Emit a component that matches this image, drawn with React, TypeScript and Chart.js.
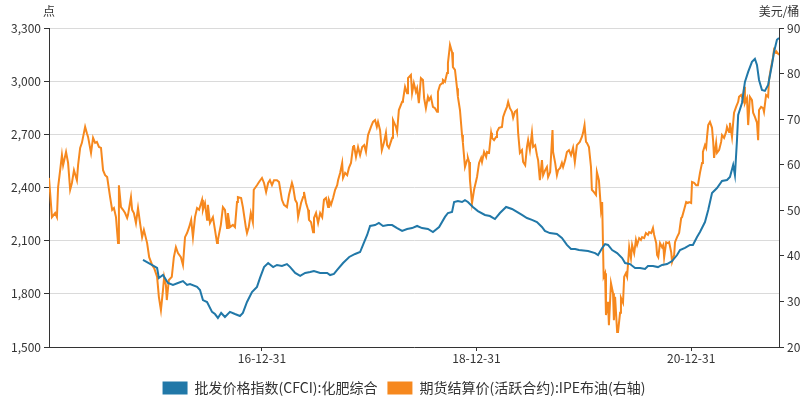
import { useEffect, useRef } from "react";
import { Chart, registerables } from "chart.js";

Chart.register(...registerables);

const cfciName = "批发价格指数(CFCI):化肥综合";
const brentName = "期货结算价(活跃合约):IPE布油(右轴)";
const leftUnit = "点";
const rightUnit = "美元/桶";
const xRange = ["2015-01-06", "2021-10-26"];
const xTickDates = ["2016-12-31", "2018-12-31", "2020-12-31"];
const leftAxis = { min: 1500, max: 3300, step: 300 };
const rightAxis = { min: 20, max: 90, step: 10 };
const cfciColor = "#2178a8";
const brentColor = "#f6881e";

const cfciDates = [
  "2015-11-22",
  "2016-01-09", "2016-01-15", "2016-01-29", "2016-02-15", "2016-03-03", "2016-03-20", "2016-04-06", "2016-04-20", "2016-04-30", "2016-05-24", "2016-06-03", "2016-06-13", "2016-06-27", "2016-07-14", "2016-07-24", "2016-08-03", "2016-08-14", "2016-08-27", "2016-09-13", "2016-09-30", "2016-10-17", "2016-10-27", "2016-11-10", "2016-11-27", "2016-12-14", "2016-12-24",
  "2017-01-07", "2017-01-21", "2017-02-07", "2017-02-20", "2017-03-09", "2017-03-26", "2017-04-06", "2017-04-23", "2017-05-10", "2017-05-27", "2017-06-13", "2017-06-26", "2017-07-17", "2017-08-10", "2017-08-20", "2017-09-02", "2017-09-13", "2017-10-03", "2017-10-24", "2017-11-13", "2017-11-30", "2017-12-10", "2017-12-24",
  "2018-01-03", "2018-01-20", "2018-02-02", "2018-02-16", "2018-03-05", "2018-03-19", "2018-04-05", "2018-04-22", "2018-05-09", "2018-05-26", "2018-06-12", "2018-06-29", "2018-07-19", "2018-08-05", "2018-08-26", "2018-09-15", "2018-09-25", "2018-10-09", "2018-10-16", "2018-10-29", "2018-11-12", "2018-11-22", "2018-12-02", "2018-12-19",
  "2019-01-05", "2019-01-29", "2019-02-15", "2019-03-04", "2019-03-21", "2019-04-11", "2019-05-01", "2019-05-18", "2019-06-04", "2019-06-21", "2019-07-08", "2019-07-25", "2019-08-11", "2019-08-21", "2019-09-07", "2019-10-01", "2019-10-18", "2019-11-04", "2019-11-18", "2019-12-02", "2019-12-15",
  "2020-01-15", "2020-02-08", "2020-02-18", "2020-03-03", "2020-03-13", "2020-03-23", "2020-04-06", "2020-04-23", "2020-05-10", "2020-05-20", "2020-06-06", "2020-06-23", "2020-07-10", "2020-07-27", "2020-08-06", "2020-08-23", "2020-09-09", "2020-09-23", "2020-10-10", "2020-10-27", "2020-11-13", "2020-11-23", "2020-12-10", "2020-12-27",
  "2021-01-06", "2021-01-20", "2021-01-30", "2021-02-16", "2021-02-27", "2021-03-12", "2021-03-29", "2021-04-15", "2021-05-02", "2021-05-12", "2021-05-23", "2021-05-29", "2021-06-05", "2021-06-09", "2021-06-22", "2021-07-02", "2021-07-13", "2021-07-26", "2021-08-05", "2021-08-12", "2021-08-19", "2021-08-29", "2021-09-08", "2021-09-19", "2021-10-02", "2021-10-09", "2021-10-19", "2021-10-26",
];
const cfciValues = [
  1991,
  1946, 1889, 1906, 1861, 1850, 1861, 1872, 1850, 1855, 1839, 1822, 1765, 1754, 1698, 1686, 1664, 1692, 1669, 1698, 1686, 1675, 1692, 1754, 1810, 1839, 1889,
  1951, 1974, 1951, 1963, 1957, 1968, 1951, 1918, 1901, 1918, 1923, 1929, 1918, 1918, 1906, 1912, 1935, 1974, 2008, 2025, 2036, 2076, 2132,
  2183, 2188, 2200, 2183, 2188, 2188, 2171, 2155, 2166, 2171, 2183, 2171, 2166, 2149, 2177, 2234, 2256, 2262, 2318, 2324, 2318, 2329, 2318, 2290,
  2267, 2245, 2239, 2222, 2256, 2290, 2279, 2262, 2245, 2228, 2217, 2205, 2177, 2155, 2143, 2138, 2115, 2076, 2053, 2053, 2047,
  2042, 2030, 2019, 2059, 2081, 2076, 2047, 2030, 2002, 1974, 1968, 1946, 1946, 1940, 1957, 1957, 1951, 1963, 1968, 1985, 2019, 2047, 2059, 2076,
  2076, 2121, 2149, 2205, 2273, 2369, 2397, 2437, 2442, 2459, 2527, 2470, 2668, 2809, 2877, 2996, 3052, 3109, 3126, 3092, 3007, 2950, 2945, 2979, 3092, 3165, 3233, 3244,
];

const brentDates = [
  "2015-01-06", "2015-01-16", "2015-01-27", "2015-02-02", "2015-02-06", "2015-02-13", "2015-02-19", "2015-02-23", "2015-03-05", "2015-03-12", "2015-03-19", "2015-03-25", "2015-04-01", "2015-04-11", "2015-04-15", "2015-04-22", "2015-04-28", "2015-05-09", "2015-05-15", "2015-05-19", "2015-05-29", "2015-06-05", "2015-06-12", "2015-06-18", "2015-06-25", "2015-07-02", "2015-07-09", "2015-07-16", "2015-07-23", "2015-08-02", "2015-08-09", "2015-08-15", "2015-08-22", "2015-08-29", "2015-09-01", "2015-09-08", "2015-09-15", "2015-09-22", "2015-09-29", "2015-10-02", "2015-10-12", "2015-10-16", "2015-10-22", "2015-10-29", "2015-11-05", "2015-11-12", "2015-11-19", "2015-11-25", "2015-12-06", "2015-12-13", "2015-12-23", "2015-12-30",
  "2016-01-09", "2016-01-15", "2016-01-22", "2016-01-29", "2016-02-02", "2016-02-08", "2016-02-11", "2016-02-18", "2016-02-28", "2016-03-06", "2016-03-13", "2016-03-20", "2016-03-30", "2016-04-06", "2016-04-13", "2016-04-20", "2016-04-27", "2016-05-04", "2016-05-10", "2016-05-17", "2016-05-24", "2016-05-31", "2016-06-10", "2016-06-13", "2016-06-20", "2016-06-27", "2016-06-30", "2016-07-07", "2016-07-17", "2016-07-24", "2016-07-31", "2016-08-03", "2016-08-13", "2016-08-20", "2016-08-27", "2016-09-03", "2016-09-06", "2016-09-13", "2016-09-23", "2016-09-30", "2016-10-07", "2016-10-10", "2016-10-21", "2016-10-27", "2016-11-06", "2016-11-10", "2016-11-16", "2016-11-23", "2016-11-30", "2016-12-03", "2016-12-14", "2016-12-21", "2016-12-31",
  "2017-01-07", "2017-01-14", "2017-01-21", "2017-01-27", "2017-02-03", "2017-02-10", "2017-02-20", "2017-02-27", "2017-03-09", "2017-03-16", "2017-03-26", "2017-04-02", "2017-04-12", "2017-04-16", "2017-04-23", "2017-04-29", "2017-05-03", "2017-05-13", "2017-05-20", "2017-05-23", "2017-05-30", "2017-06-06", "2017-06-09", "2017-06-16", "2017-06-23", "2017-06-26", "2017-07-03", "2017-07-10", "2017-07-17", "2017-07-24", "2017-07-30", "2017-08-06", "2017-08-13", "2017-08-16", "2017-08-23", "2017-08-30", "2017-09-06", "2017-09-13", "2017-09-16", "2017-09-23", "2017-09-30", "2017-10-03", "2017-10-10", "2017-10-17", "2017-10-23", "2017-10-30", "2017-11-06", "2017-11-09", "2017-11-16", "2017-11-23", "2017-11-30", "2017-12-07", "2017-12-14", "2017-12-20", "2017-12-27",
  "2018-01-06", "2018-01-13", "2018-01-20", "2018-01-26", "2018-01-30", "2018-02-06", "2018-02-12", "2018-02-19", "2018-02-26", "2018-03-02", "2018-03-08", "2018-03-19", "2018-03-22", "2018-04-01", "2018-04-05", "2018-04-11", "2018-04-22", "2018-04-25", "2018-05-02", "2018-05-09", "2018-05-12", "2018-05-22", "2018-05-26", "2018-06-01", "2018-06-08", "2018-06-12", "2018-06-18", "2018-06-25", "2018-07-02", "2018-07-06", "2018-07-12", "2018-07-19", "2018-07-23", "2018-07-29", "2018-08-05", "2018-08-12", "2018-08-19", "2018-08-22", "2018-08-29", "2018-09-05", "2018-09-08", "2018-09-15", "2018-09-22", "2018-09-25", "2018-10-02", "2018-10-09", "2018-10-12", "2018-10-19", "2018-10-26", "2018-10-29", "2018-11-05", "2018-11-12", "2018-11-15", "2018-11-22", "2018-11-29", "2018-12-02", "2018-12-06", "2018-12-09", "2018-12-16", "2018-12-23",
  "2019-01-02", "2019-01-09", "2019-01-16", "2019-01-19", "2019-01-26", "2019-02-02", "2019-02-05", "2019-02-12", "2019-02-19", "2019-02-22", "2019-03-01", "2019-03-08", "2019-03-11", "2019-03-18", "2019-03-28", "2019-04-01", "2019-04-07", "2019-04-14", "2019-04-18", "2019-04-24", "2019-05-01", "2019-05-05", "2019-05-11", "2019-05-18", "2019-05-22", "2019-05-28", "2019-06-04", "2019-06-08", "2019-06-15", "2019-06-21", "2019-06-25", "2019-07-01", "2019-07-08", "2019-07-12", "2019-07-19", "2019-07-25", "2019-07-29", "2019-08-04", "2019-08-11", "2019-08-15", "2019-08-22", "2019-08-28", "2019-09-01", "2019-09-08", "2019-09-16", "2019-09-18", "2019-09-25", "2019-10-01", "2019-10-05", "2019-10-12", "2019-10-18", "2019-10-22", "2019-10-29", "2019-11-04", "2019-11-11", "2019-11-18", "2019-11-25", "2019-12-01", "2019-12-08", "2019-12-18", "2019-12-25", "2019-12-29",
  "2020-01-03", "2020-01-08", "2020-01-11", "2020-01-18", "2020-01-25", "2020-01-28", "2020-02-04", "2020-02-11", "2020-02-14", "2020-02-21", "2020-02-28", "2020-03-03", "2020-03-08", "2020-03-13", "2020-03-16", "2020-03-23", "2020-03-26", "2020-04-02", "2020-04-09", "2020-04-12", "2020-04-16", "2020-04-23", "2020-04-26", "2020-05-03", "2020-05-06", "2020-05-13", "2020-05-17", "2020-05-23", "2020-05-27", "2020-06-03", "2020-06-09", "2020-06-13", "2020-06-20", "2020-06-26", "2020-06-30", "2020-07-07", "2020-07-13", "2020-07-17", "2020-07-24", "2020-07-30", "2020-08-06", "2020-08-10", "2020-08-17", "2020-08-23", "2020-08-27", "2020-09-03", "2020-09-06", "2020-09-10", "2020-09-16", "2020-09-23", "2020-09-27", "2020-09-30", "2020-10-07", "2020-10-13", "2020-10-17", "2020-10-24", "2020-10-27", "2020-11-03", "2020-11-06", "2020-11-13", "2020-11-20", "2020-11-27", "2020-11-30", "2020-12-07", "2020-12-14", "2020-12-20", "2020-12-24", "2020-12-31",
  "2021-01-03", "2021-01-10", "2021-01-17", "2021-01-23", "2021-01-30", "2021-02-06", "2021-02-09", "2021-02-16", "2021-02-20", "2021-02-23", "2021-02-27", "2021-03-05", "2021-03-12", "2021-03-16", "2021-03-19", "2021-03-26", "2021-03-29", "2021-04-05", "2021-04-12", "2021-04-15", "2021-04-22", "2021-04-29", "2021-05-02", "2021-05-09", "2021-05-12", "2021-05-19", "2021-05-23", "2021-05-26", "2021-06-02", "2021-06-09", "2021-06-12", "2021-06-19", "2021-06-26", "2021-06-29", "2021-07-02", "2021-07-09", "2021-07-13", "2021-07-19", "2021-07-26", "2021-07-30", "2021-08-05", "2021-08-12", "2021-08-16", "2021-08-19", "2021-08-26", "2021-09-02", "2021-09-05", "2021-09-12", "2021-09-19", "2021-09-22", "2021-09-29", "2021-10-06", "2021-10-09", "2021-10-16", "2021-10-19", "2021-10-26",
];
const brentValues = [
  57.1, 48.5, 49.4, 48.5, 55.1, 58.8, 62.1, 59.9, 62.8, 60.4, 54.5, 56.0, 58.8, 56.6, 59.9, 63.7, 64.8, 68.3, 66.9, 66.1, 62.6, 65.9, 64.8, 65.0, 63.9, 63.7, 58.8, 57.7, 57.3, 52.9, 50.1, 50.5, 48.5, 42.8, 55.5, 50.7, 50.1, 49.4, 48.3, 49.0, 52.9, 50.1, 49.4, 47.2, 50.5, 47.2, 44.1, 45.7, 42.8, 39.7, 38.0, 37.3,
  35.4, 31.0, 28.1, 32.5, 35.4, 33.6, 30.3, 34.7, 35.4, 39.7, 41.9, 40.6, 39.7, 38.0, 44.1, 45.0, 46.3, 47.9, 44.1, 48.5, 50.5, 50.1, 52.3, 50.1, 51.6, 47.9, 51.2, 47.2, 48.5, 45.7, 42.8, 43.5, 46.8, 50.7, 50.1, 46.1, 49.4, 46.3, 46.8, 46.3, 51.8, 52.9, 52.7, 50.7, 46.3, 45.0, 46.3, 49.4, 47.4, 54.5, 55.5, 56.2, 57.1,
  56.0, 54.0, 56.0, 56.6, 55.5, 56.6, 56.6, 56.2, 52.3, 51.2, 50.7, 53.4, 56.0, 55.1, 52.3, 51.6, 48.5, 51.6, 52.9, 54.0, 51.6, 50.1, 47.9, 47.4, 45.2, 48.3, 49.4, 47.2, 49.4, 48.5, 52.3, 52.7, 50.7, 52.3, 51.2, 52.7, 54.5, 55.5, 56.6, 58.2, 60.4, 57.1, 58.2, 57.7, 59.3, 60.4, 63.9, 64.3, 61.7, 63.9, 62.1, 63.9, 64.3, 62.8, 66.5,
  68.3, 69.4, 69.8, 68.3, 69.4, 67.6, 63.2, 64.8, 67.0, 64.3, 63.7, 65.9, 69.8, 68.3, 67.2, 72.0, 73.8, 74.2, 77.1, 75.7, 79.0, 79.7, 75.7, 77.9, 76.0, 76.8, 73.5, 79.0, 78.6, 74.6, 72.4, 74.9, 74.2, 74.9, 72.7, 72.4, 71.6, 76.0, 77.5, 77.9, 78.6, 78.2, 80.1, 82.3, 86.3, 84.7, 81.4, 80.8, 76.8, 74.9, 72.0, 66.5, 64.8, 59.5, 61.0, 61.5, 60.6, 56.6, 51.6, 54.5,
  57.3, 60.4, 61.5, 60.6, 62.8, 61.7, 62.8, 62.6, 67.0, 65.9, 65.4, 66.1, 67.2, 68.1, 68.3, 70.5, 71.6, 72.7, 73.8, 72.4, 71.6, 70.3, 71.6, 72.0, 67.0, 62.6, 63.2, 60.6, 59.9, 63.9, 65.4, 63.2, 67.0, 63.9, 64.3, 62.1, 61.0, 56.6, 61.0, 57.7, 58.8, 59.5, 57.3, 58.4, 67.6, 62.8, 60.4, 57.7, 58.8, 59.3, 60.4, 59.5, 61.0, 62.8, 63.2, 62.1, 63.7, 60.6, 64.3, 65.0, 66.1, 67.0,
  68.7, 65.0, 64.8, 63.9, 59.5, 54.5, 54.0, 53.4, 58.4, 56.6, 50.1, 51.8, 35.4, 36.2, 27.0, 29.9, 24.8, 34.0, 31.8, 25.9, 31.0, 23.3, 23.3, 27.5, 30.8, 29.7, 35.4, 36.2, 35.4, 41.9, 39.5, 42.4, 40.6, 43.5, 42.4, 43.9, 43.5, 44.1, 43.9, 45.0, 44.6, 45.2, 45.0, 46.1, 44.6, 42.8, 40.2, 39.7, 42.8, 41.9, 42.4, 39.7, 43.0, 42.8, 43.0, 40.8, 38.7, 40.2, 43.0, 44.1, 45.0, 48.3, 48.5, 50.1, 51.8, 51.6, 51.8, 51.6,
  56.2, 56.0, 55.5, 55.5, 58.2, 60.4, 62.8, 64.3, 63.7, 66.1, 68.7, 69.4, 68.1, 65.0, 61.5, 64.8, 62.6, 63.2, 65.0, 66.5, 65.9, 67.2, 68.3, 67.2, 69.2, 66.1, 69.2, 71.4, 72.7, 73.8, 74.9, 75.3, 74.2, 77.1, 73.5, 74.6, 68.7, 74.9, 74.2, 71.4, 70.5, 69.2, 65.4, 72.0, 72.7, 72.4, 71.6, 75.3, 74.9, 78.6, 81.4, 83.6, 85.2, 84.5, 84.7, 84.1,
];

const FONT = "'Noto Sans CJK SC', 'Noto Sans', sans-serif";
const TEXT = "#333333";
const AXIS = "#333333";

function toPoints(dates: string[], values: number[]) {
  return dates.map((d, i) => ({ x: Date.parse(d), y: values[i] }));
}

function fmtDate(v: number) {
  const dt = new Date(v);
  const yy = String(dt.getUTCFullYear()).slice(2);
  const mm = String(dt.getUTCMonth() + 1).padStart(2, "0");
  const dd = String(dt.getUTCDate()).padStart(2, "0");
  return `${yy}-${mm}-${dd}`;
}

const unitTitles = {
  id: "unitTitles",
  afterDraw(chart: any) {
    const { ctx, chartArea } = chart;
    ctx.save();
    ctx.font = `12px ${FONT}`;
    ctx.fillStyle = TEXT;
    ctx.textAlign = "center";
    ctx.textBaseline = "middle";
    ctx.fillText(leftUnit, chartArea.left, 11);
    ctx.fillText(rightUnit, chartArea.right, 11);
    ctx.restore();
  },
};

export default function App() {
  const ref = useRef<HTMLCanvasElement | null>(null);

  useEffect(() => {
    if (!ref.current) return;
    const chart = new Chart(ref.current, {
      type: "line",
      data: {
        datasets: [
          {
            label: cfciName,
            data: toPoints(cfciDates, cfciValues),
            borderColor: cfciColor,
            backgroundColor: cfciColor,
            borderWidth: 2,
            pointRadius: 0,
            tension: 0,
            yAxisID: "y",
          },
          {
            label: brentName,
            data: toPoints(brentDates, brentValues),
            borderColor: brentColor,
            backgroundColor: brentColor,
            borderWidth: 2,
            pointRadius: 0,
            tension: 0,
            yAxisID: "y1",
          },
        ],
      },
      options: {
        animation: false,
        responsive: false,
        devicePixelRatio: 1,
        layout: { padding: { top: 28, bottom: -9, left: 0, right: 0 } },
        font: { family: FONT },
        plugins: {
          tooltip: { enabled: false },
          legend: {
            position: "bottom",
            labels: {
              boxWidth: 25,
              boxHeight: 13,
              padding: 10,
              color: TEXT,
              font: { size: 14, family: FONT },
              generateLabels: (c: any) =>
                Chart.defaults.plugins.legend.labels
                  .generateLabels(c)
                  .map((l: any) => ({ ...l, lineWidth: 0 })),
            },
          },
        },
        scales: {
          x: {
            type: "linear",
            min: Date.parse(xRange[0]),
            max: Date.parse(xRange[1]),
            afterBuildTicks: (scale: any) => {
              scale.ticks = xTickDates.map((d) => ({ value: Date.parse(d) }));
            },
            afterFit: (scale: any) => {
              scale.height = 24;
            },
            ticks: {
              autoSkip: false,
              maxRotation: 0,
              padding: 0,
              color: TEXT,
              font: { size: 12, family: FONT },
              callback: (v: any) => fmtDate(Number(v)),
            },
            grid: { drawOnChartArea: false, drawTicks: true, tickLength: 4, color: AXIS },
            border: { color: AXIS, width: 1 },
          },
          y: {
            position: "left",
            min: leftAxis.min,
            max: leftAxis.max,
            afterFit: (scale: any) => {
              scale.width = 49;
            },
            ticks: {
              stepSize: leftAxis.step,
              padding: 3,
              color: TEXT,
              font: { size: 12, family: FONT },
              callback: (v: any) => Number(v).toLocaleString("en-US"),
            },
            grid: { color: "#dadada", tickColor: AXIS, tickLength: 5 },
            border: { color: AXIS, width: 1 },
          },
          y1: {
            position: "right",
            min: rightAxis.min,
            max: rightAxis.max,
            afterFit: (scale: any) => {
              scale.width = 29;
            },
            ticks: {
              stepSize: rightAxis.step,
              padding: 3,
              color: TEXT,
              font: { size: 12, family: FONT },
            },
            grid: { drawOnChartArea: false, tickColor: AXIS, tickLength: 5 },
            border: { color: AXIS, width: 1 },
          },
        },
      },
      plugins: [unitTitles],
    } as any);
    return () => chart.destroy();
  }, []);

  return (
    <div style={{ position: "fixed", left: 0, top: 0, width: 808, height: 396, background: "#fff" }}>
      <canvas ref={ref} width={808} height={396} style={{ display: "block" }} />
    </div>
  );
}
